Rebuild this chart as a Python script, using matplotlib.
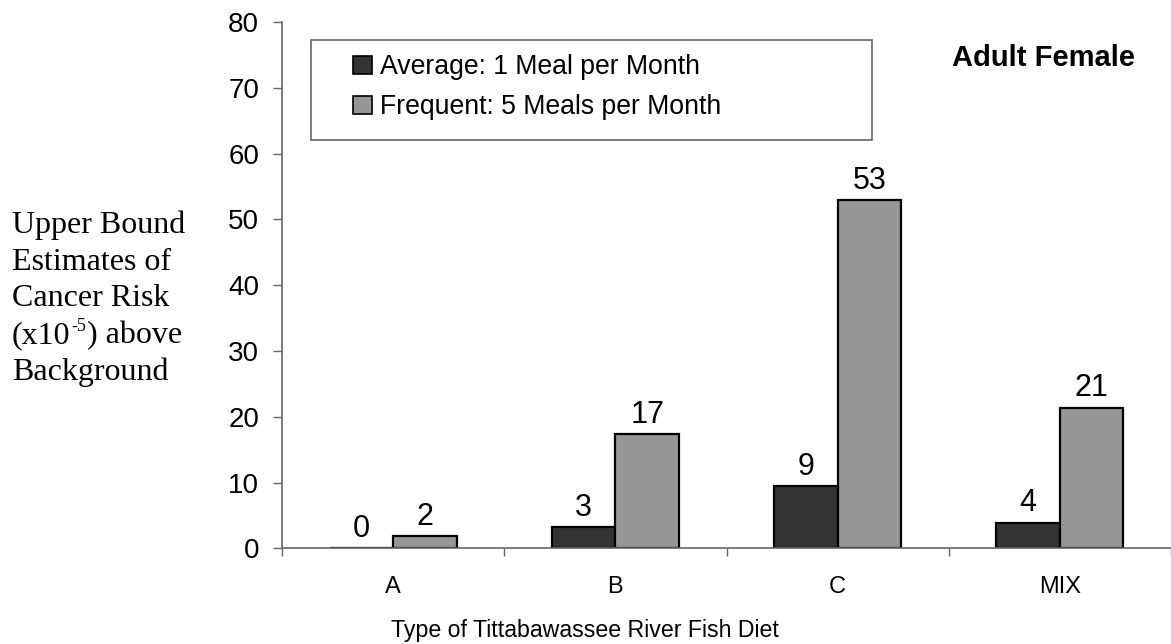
import matplotlib
matplotlib.use("Agg")
import matplotlib.pyplot as plt
from matplotlib.patches import Rectangle, Patch
import numpy as np

categories = ["A", "B", "C", "MIX"]
average_vals = [0.0, 3.2, 9.5, 3.9]
frequent_vals = [1.9, 17.4, 52.9, 21.4]
average_labels = ["0", "3", "9", "4"]
frequent_labels = ["2", "17", "53", "21"]
series_names = ["Average: 1 Meal per Month", "Frequent: 5 Meals per Month"]
y_ticks = [0, 10, 20, 30, 40, 50, 60, 70, 80]

plt.rcParams['font.family'] = ['Liberation Sans', 'DejaVu Sans']

W, H = 1171, 644
fig = plt.figure(figsize=(W / 100, H / 100), dpi=100)
ax = fig.add_axes([282 / W, 1 - 548.3 / H, (W - 282) / W, (548.3 - 22) / H])

dark = "#333333"
light = "#969696"
axis_gray = "#666666"
x = np.arange(len(categories))
bw = 0.286
b1 = ax.bar(x - bw / 2, average_vals, bw, color=dark, edgecolor="black", linewidth=1.6)
b2 = ax.bar(x + bw / 2, frequent_vals, bw, color=light, edgecolor="black", linewidth=1.6)

for bars, labs in ((b1, average_labels), (b2, frequent_labels)):
    for r, lab in zip(bars, labs):
        ax.annotate(lab, (r.get_x() + r.get_width() / 2, r.get_height()),
                    xytext=(0, 3), textcoords="offset points",
                    ha="center", va="bottom", fontsize=22)

ax.set_xlim(-0.5, len(categories) - 0.5)
ax.set_ylim(0, 80)
ax.set_yticks(y_ticks)
ax.tick_params(axis='y', labelsize=20, length=6.5, width=1, direction='out', pad=10,
               labelcolor='black')
ax.set_xticks(x)
ax.set_xticklabels(categories)
ax.tick_params(axis='x', which='major', length=0, labelsize=17, pad=20)
ax.set_xticks(np.arange(len(categories) + 1) - 0.5, minor=True)
ax.tick_params(axis='x', which='minor', length=6, width=1, direction='out')
for s in ("top", "right"):
    ax.spines[s].set_visible(False)
for s in ("left", "bottom"):
    ax.spines[s].set_color(axis_gray)
    ax.spines[s].set_linewidth(1.2)
ax.tick_params(axis='both', which='both', color=axis_gray)

# x label (figure coords)
fig.text(585 / W, 1 - 637 / H, "Type of Tittabawassee River Fish Diet",
         ha="center", va="baseline", fontsize=16.7)

# y label (Times-like, horizontal, left aligned), lines placed by baseline
serif = "Liberation Serif"
ylab_size = 23
baselines = [233, 269.75, 306.5, 343.25, 380]
fig.text(12 / W, 1 - baselines[0] / H, "Upper Bound", ha="left", va="baseline",
         fontsize=ylab_size, family=serif)
fig.text(12 / W, 1 - baselines[1] / H, "Estimates of", ha="left", va="baseline",
         fontsize=ylab_size, family=serif)
fig.text(12 / W, 1 - baselines[2] / H, "Cancer Risk", ha="left", va="baseline",
         fontsize=ylab_size, family=serif)
t4 = fig.text(12 / W, 1 - baselines[3] / H, "(x10", ha="left", va="baseline",
              fontsize=ylab_size, family=serif)
sup = ax.annotate("-5", xy=(1, 0), xycoords=t4, xytext=(0.5, 11),
                  textcoords="offset points", ha="left", va="bottom",
                  fontsize=13, family=serif, annotation_clip=False)
ax.annotate(") above", xy=(1, 0), xycoords=(sup, t4), xytext=(0.5, 0),
            textcoords="offset points", ha="left", va="bottom",
            fontsize=ylab_size, family=serif, annotation_clip=False)
fig.text(12 / W, 1 - baselines[4] / H, "Background", ha="left", va="baseline",
         fontsize=ylab_size, family=serif)

# Title
fig.text(1043 / W, 1 - 65.7 / H, "Adult Female", ha="center", va="baseline",
         fontsize=21, fontweight="bold")

# legend box
fig.patches.append(Rectangle((311 / W, 1 - 140 / H), (872 - 311) / W, 100 / H,
                             transform=fig.transFigure, facecolor="white",
                             edgecolor=axis_gray, linewidth=1.2, zorder=5))
handles = [Patch(facecolor=dark, edgecolor="black", linewidth=1.2),
           Patch(facecolor=light, edgecolor="black", linewidth=1.2)]
leg = fig.legend(handles, series_names, loc="upper left",
                 bbox_to_anchor=(332 / W, 1 - 33 / H), frameon=False, fontsize=19.2,
                 handlelength=0.7, handleheight=0.7, handletextpad=0.3,
                 labelspacing=0.52, borderpad=0.3)
leg.set_zorder(6)

fig.savefig("out.png", dpi=100)
